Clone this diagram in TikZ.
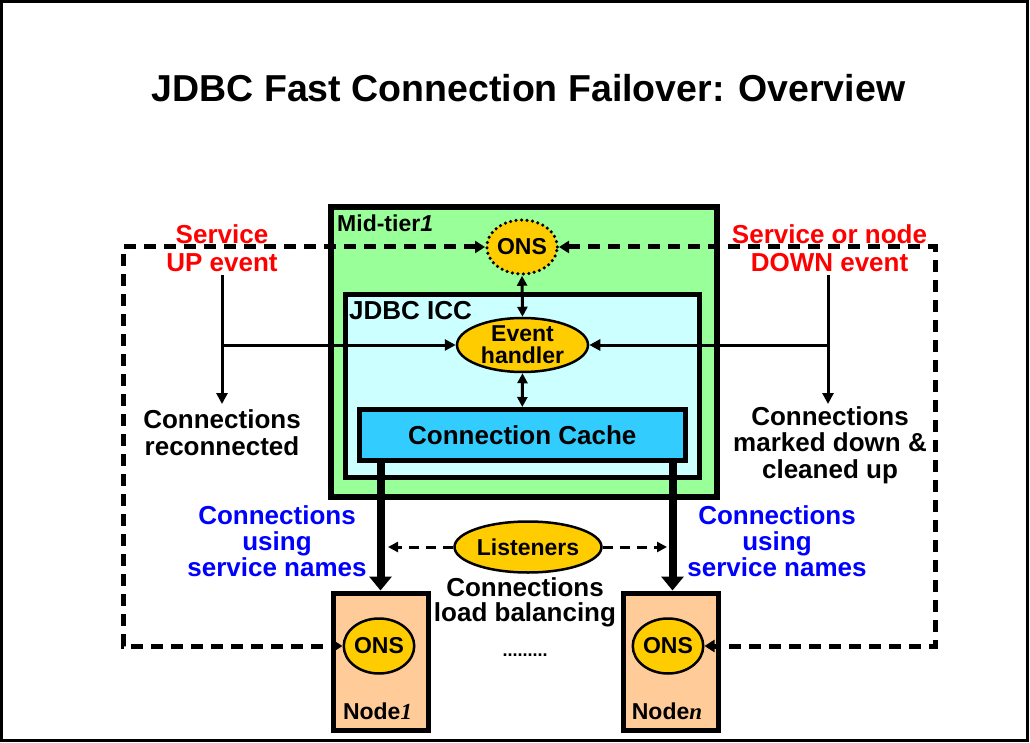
\documentclass[tikz,border=0pt]{standalone}
\usepackage{fontspec}
\setmainfont{Liberation Sans}
\newfontfamily\serifit{Liberation Serif}
\usetikzlibrary{shapes.geometric,arrows.meta}
\definecolor{midgreen}{HTML}{99FF99}
\definecolor{icccyan}{HTML}{CCFFFF}
\definecolor{cacheblue}{HTML}{33CCFF}
\definecolor{onsgold}{HTML}{FFCC00}
\definecolor{nodepeach}{HTML}{FFCC99}
\definecolor{evred}{HTML}{FF0000}
\definecolor{txtblue}{HTML}{0000FF}
\tikzset{
  big/.style={font=\bfseries\fontsize{26}{27}\selectfont},
  small/.style={font=\bfseries\fontsize{23}{23}\selectfont},
  txt/.style={big,align=center,inner sep=0pt},
  boxA/.style={draw,line width=5.5pt,inner sep=0pt},
  oval/.style={ellipse,draw,line width=2.5pt,fill=onsgold,inner sep=0pt,small,align=center},
  thinarr/.style={line width=3pt,-{Triangle[length=11pt,width=11pt]}},
  dblarr/.style={line width=3pt,{Triangle[length=10pt,width=10pt]}-{Triangle[length=10pt,width=10pt]}},
  dasharr/.style={line width=5pt,dash pattern=on 12pt off 8pt,{Triangle[length=10pt,width=12pt]}-{Triangle[length=10pt,width=12pt]}},
  lisarr/.style={line width=3pt,dash pattern=on 10pt off 7pt,-{Triangle[length=10pt,width=10pt]}},
  fatarr/.style={line width=8pt,-{Triangle[length=14pt,width=22pt]}},
}
\begin{document}
\begin{tikzpicture}[x=1pt,y=-1pt]
\useasboundingbox (0,0) rectangle (1030,743);
\draw[line width=3pt] (1.5,1.5) rectangle (1027.5,740.5);
% title
\node[inner sep=0pt,font=\bfseries\fontsize{37.5}{40}\selectfont] (title) at (528.5,88) {JDBC Fast Connection Failover: Overview};
% boxes
\node[boxA,fill=midgreen,minimum width=386pt,minimum height=290pt] (mid) at (524,352) {};
\node[boxA,fill=icccyan,minimum width=354pt,minimum height=183pt,line width=5pt] (icc) at (522.5,386) {};
\node[boxA,fill=cacheblue,minimum width=326pt,minimum height=51pt,line width=5pt,big] (cache) at (522.3,435) {Connection Cache};
\node[small,anchor=west,inner sep=0pt] (midlbl) at (337,223) {Mid-tier\textit{1}};
\node[big,anchor=west,inner sep=0pt] (icclbl) at (349,311) {JDBC ICC};
% ellipses
\node[oval,line width=3.5pt,line cap=round,dash pattern=on 0pt off 5.5pt,minimum width=59pt,minimum height=54pt] (ons) at (522,247) {ONS};
\node[oval,minimum width=131pt,minimum height=54pt,font=\bfseries\fontsize{23}{22}\selectfont] (eh) at (522.5,345) {Event\\handler};
% nodes
\node[draw,line width=5pt,fill=nodepeach,minimum width=95pt,minimum height=137pt] (n1) at (380.5,661.5) {};
\node[draw,line width=5pt,fill=nodepeach,minimum width=95pt,minimum height=137pt] (nn) at (670.5,661.5) {};
\node[oval,minimum width=61pt,minimum height=55pt] (ons1) at (379,646) {ONS};
\node[oval,minimum width=61pt,minimum height=55pt] (onsn) at (668,646) {ONS};
\node[small,inner sep=0pt] (n1lbl) at (377.5,711) {Node{\serifit\itshape\bfseries 1}};
\node[small,inner sep=0pt] (nnlbl) at (667,711) {Node{\serifit\itshape\bfseries n}};
% listeners
\node[oval,minimum width=147pt,minimum height=51pt,font=\bfseries\fontsize{23}{23}\selectfont] (lis) at (528,547) {Listeners};
\node[txt,font=\bfseries\fontsize{26}{25}\selectfont] (lb) at (525,602) {Connections\\load balancing};
\node[inner sep=0pt,font=\bfseries\fontsize{18}{18}\selectfont] (dots) at (525,655) {.........};
% side texts
\node[txt,text=evred,font=\bfseries\fontsize{26}{28}\selectfont] (upev) at (222,248) {Service\\UP event};
\node[txt,text=evred,font=\bfseries\fontsize{26}{28}\selectfont] (downev) at (829.5,248) {Service or node\\DOWN event};
\node[txt,font=\bfseries\fontsize{26}{27}\selectfont] (recon) at (222,433) {Connections\\reconnected};
\node[txt,font=\bfseries\fontsize{26}{26.5}\selectfont] (marked) at (830,445) {Connections\\marked down \&\\cleaned up};
\node[txt,text=txtblue,font=\bfseries\fontsize{26}{26}\selectfont] (bl1) at (277,541) {Connections\\using\\service names};
\node[txt,text=txtblue,font=\bfseries\fontsize{26}{26}\selectfont] (bl2) at (777,541) {Connections\\using\\service names};
% coordinates
\coordinate (upS) at (222,275);
\coordinate (upE) at (222,404);
\coordinate (upJ) at (222,345);
\coordinate (dnS) at (828,275);
\coordinate (dnE) at (828,404);
\coordinate (dnJ) at (828,345);
\coordinate (tl) at (123,247);
\coordinate (bl) at (123,646);
\coordinate (tr) at (935,247);
\coordinate (br) at (935,646);
\coordinate (lisL) at (388,547);
\coordinate (lisR) at (667,547);
% connectors
\draw[thinarr] (upS) -- (upE);
\draw[thinarr] (upJ) -- (eh.west);
\draw[thinarr] (dnS) -- (dnE);
\draw[thinarr] (dnJ) -- (eh.east);
\draw[dblarr] (ons.south) -- (eh.north);
\draw[dblarr] (eh.south) -- (cache.north);
\draw[dasharr] (ons.west) -- (tl) -- (bl) -- (ons1.west);
\draw[dasharr] (ons.east) -- (tr) -- (br) -- (onsn.east);
\draw[fatarr] (cache.south -| n1.north) -- (n1.north);
\draw[fatarr] ([xshift=2pt]cache.south -| nn.north) -- ([xshift=2pt]nn.north);
\draw[lisarr] (lis.west) -- (lisL);
\draw[lisarr] (lis.east) -- (lisR);
\end{tikzpicture}
\end{document}
